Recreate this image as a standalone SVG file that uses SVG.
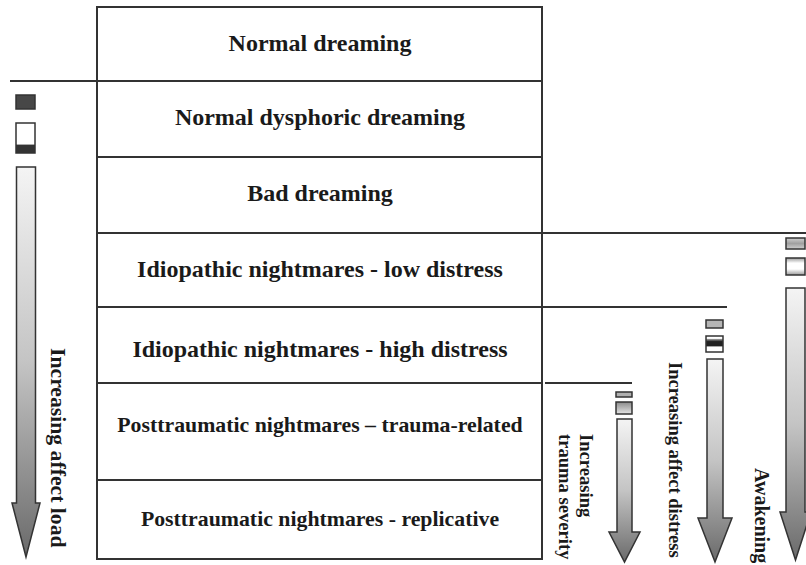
<svg xmlns="http://www.w3.org/2000/svg" width="806" height="565" viewBox="0 0 806 565">
<defs>
<linearGradient id="ag" x1="0" y1="0" x2="0" y2="1">
<stop offset="0" stop-color="#f4f4f4"/>
<stop offset="0.5" stop-color="#c4c4c4"/>
<stop offset="1" stop-color="#6a6a6a"/>
</linearGradient>
<linearGradient id="tb2" x1="0" y1="0" x2="0" y2="1">
<stop offset="0" stop-color="#8a8a8a"/>
<stop offset="1" stop-color="#e6e6e6"/>
</linearGradient>
<linearGradient id="gb1" x1="0" y1="0" x2="0" y2="1">
<stop offset="0" stop-color="#cfcfcf"/>
<stop offset="0.5" stop-color="#a0a0a0"/>
<stop offset="1" stop-color="#cfcfcf"/>
</linearGradient>
<linearGradient id="aw2" x1="0" y1="0" x2="0" y2="1">
<stop offset="0" stop-color="#9a9a9a"/>
<stop offset="0.3" stop-color="#ffffff"/>
<stop offset="0.65" stop-color="#ffffff"/>
<stop offset="1" stop-color="#9a9a9a"/>
</linearGradient>
<linearGradient id="ds2" x1="0" y1="0" x2="0" y2="1">
<stop offset="0" stop-color="#ffffff"/>
<stop offset="0.15" stop-color="#ffffff"/>
<stop offset="0.2" stop-color="#999999"/>
<stop offset="0.35" stop-color="#222222"/>
<stop offset="0.62" stop-color="#222222"/>
<stop offset="0.68" stop-color="#ffffff"/>
<stop offset="1" stop-color="#ffffff"/>
</linearGradient>
<linearGradient id="lb2" x1="0" y1="0" x2="0" y2="1">
<stop offset="0" stop-color="#ffffff"/>
<stop offset="0.7" stop-color="#ffffff"/>
<stop offset="0.74" stop-color="#333333"/>
<stop offset="1" stop-color="#333333"/>
</linearGradient>
</defs>
<style>
.cell{fill:#ffffff;stroke:#333333;stroke-width:2}
.lbl{font-family:"Liberation Serif","Times New Roman",serif;font-weight:bold;font-size:24px;fill:#1a1a1a;text-anchor:middle}
.sm{font-size:21.8px}
.vl{font-family:"Liberation Serif","Times New Roman",serif;font-weight:bold;fill:#1a1a1a}
.ln{stroke:#333333;stroke-width:2;fill:none}
.arr{fill:url(#ag);stroke:#333333;stroke-width:1.5}
.bx{stroke:#333333;stroke-width:1.5}
</style>

<g id="row1"><rect class="cell" x="97" y="7" width="445" height="74"/><text class="lbl" x="320" y="51">Normal dreaming</text></g>
<g id="row2"><rect class="cell" x="97" y="81" width="445" height="76"/><text class="lbl" x="320" y="125">Normal dysphoric dreaming</text></g>
<g id="row3"><rect class="cell" x="97" y="157" width="445" height="76"/><text class="lbl" x="320" y="201">Bad dreaming</text></g>
<g id="row4"><rect class="cell" x="97" y="233" width="445" height="74"/><text class="lbl" x="320" y="277">Idiopathic nightmares - low distress</text></g>
<g id="row5"><rect class="cell" x="97" y="307" width="445" height="76"/><text class="lbl" x="320" y="357">Idiopathic nightmares - high distress</text></g>
<g id="row6"><rect class="cell" x="97" y="383" width="445" height="97"/><text class="lbl sm" x="320" y="432">Posttraumatic nightmares – trauma-related</text></g>
<g id="row7"><rect class="cell" x="97" y="480" width="445" height="79"/><text class="lbl sm" x="320" y="526">Posttraumatic nightmares - replicative</text></g>

<g id="connectors">
<line class="ln" x1="10" y1="81" x2="96" y2="81"/>
<line class="ln" x1="542" y1="233" x2="806" y2="233"/>
<line class="ln" x1="542" y1="307" x2="727" y2="307"/>
<line class="ln" x1="545" y1="383" x2="632" y2="383"/>
</g>

<g id="affect-load">
<rect class="bx" x="16" y="95" width="19" height="14" fill="#474747"/>
<rect class="bx" x="16" y="123" width="19" height="30" fill="url(#lb2)"/>
<path class="arr" d="M16.5,167 H35.5 V503 H40 L26,557 L12,503 H16.5 Z"/>
<text class="vl" font-size="21.7" transform="translate(51,348) rotate(90)">Increasing affect load</text>
</g>

<g id="trauma-severity">
<rect class="bx" x="616" y="392" width="16" height="5" fill="#b0b0b0"/>
<rect class="bx" x="616" y="402" width="16" height="12" fill="url(#tb2)"/>
<path class="arr" d="M617,419 H632 V532 H640 L624.5,562 L609,532 H617 Z"/>
<text class="vl" font-size="18.6" transform="translate(580,434) rotate(90)">Increasing</text>
<text class="vl" font-size="18.6" transform="translate(559,434) rotate(90)">trauma severity</text>
</g>

<g id="affect-distress">
<rect class="bx" x="706" y="320" width="17" height="8" fill="#b5b5b5"/>
<rect class="bx" x="706" y="336" width="17" height="16" fill="url(#ds2)"/>
<path class="arr" d="M707,359 H723 V518 H732 L715,562 L698,518 H707 Z"/>
<text class="vl" font-size="18.5" transform="translate(669,362) rotate(90)">Increasing affect distress</text>
</g>

<g id="awakening">
<rect class="bx" x="786" y="238" width="19" height="11" fill="url(#gb1)"/>
<rect class="bx" x="786" y="258" width="19" height="17" fill="url(#aw2)"/>
<path class="arr" d="M786,288 H805 V512 H811 L795.5,560 L780,512 H786 Z"/>
<text class="vl" font-size="20" transform="translate(755,468) rotate(90)">Awakening</text>
</g>
</svg>
